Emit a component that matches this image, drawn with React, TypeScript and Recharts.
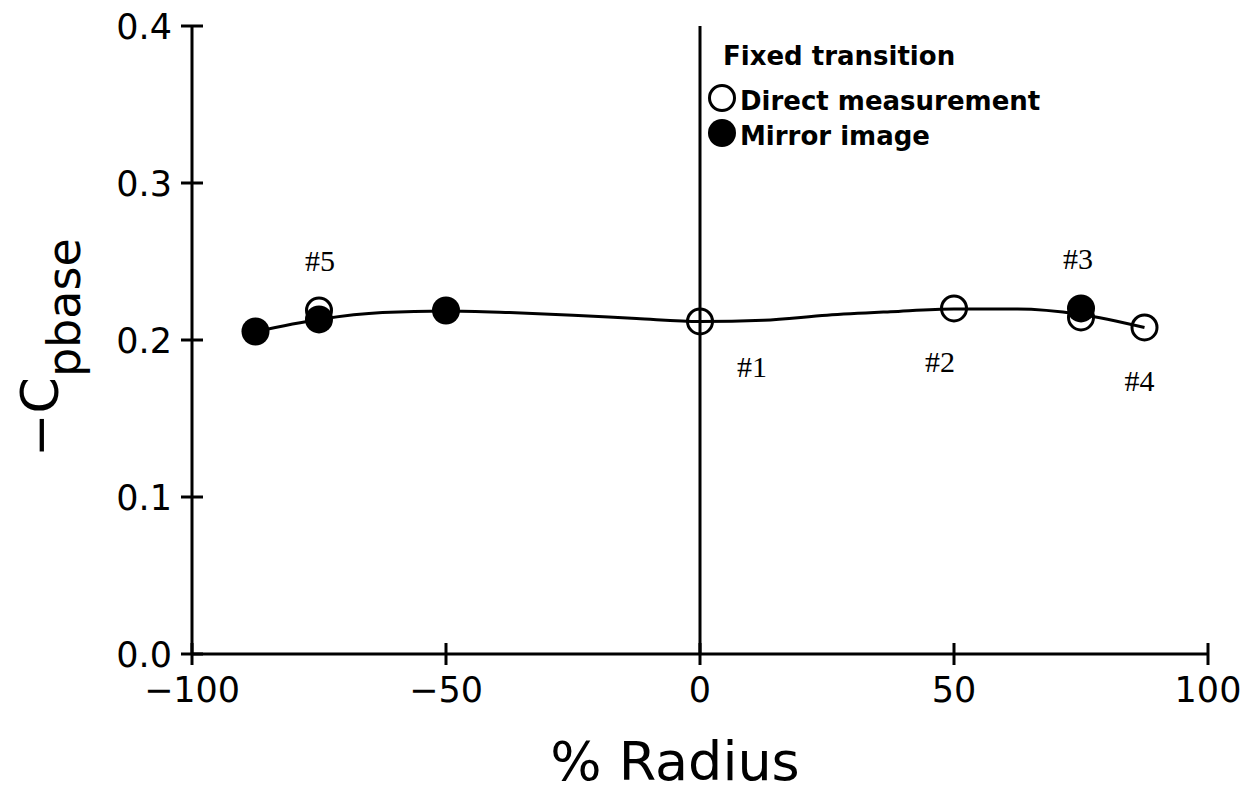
import React from 'react';
import { ComposedChart, Line, Scatter, XAxis, YAxis, ReferenceLine } from 'recharts';

// probe positions (% radius) and -Cp base readings
const directX = [-75, 0, 50, 75, 87.5];
const directY = [0.2188, 0.2118, 0.2201, 0.2144, 0.208];
const probeNames = ['#5', '#1', '#2', '#3', '#4'];

const mirrorX = [-87.5, -75, -50, 75];
const mirrorY = [0.2054, 0.2131, 0.2188, 0.2201];

// faired curve
const curveX = [-87.5, -75, -62.5, -50, -37.5, -25, -12.5, 0, 12.5, 25, 37.5, 50, 62.5, 75, 87.5];
const curveY = [0.2054, 0.2131, 0.2175, 0.2185, 0.2175, 0.2158, 0.2137, 0.2118, 0.2126, 0.2158, 0.218, 0.2198, 0.2198, 0.2163, 0.208];

const xTicks = [-100, -50, 0, 50, 100];
const yTicks = [0, 0.1, 0.2, 0.3, 0.4];

const legendTitle = 'Fixed transition';
const legendNames = ['Direct measurement', 'Mirror image'];

const direct = directX.map((x, i) => ({ x, y: directY[i], probe: probeNames[i] }));
const mirror = mirrorX.map((x, i) => ({ x, y: mirrorY[i] }));
const curve = curveX.map((x, i) => ({ x, y: curveY[i] }));

// where each probe tag sits relative to its open marker
const labelOffset = {
  '#5': [1, -50],
  '#1': [52, 45],
  '#2': [-14, 53],
  '#3': [-3, -59],
  '#4': [-5, 53],
};

const sans = 'DejaVu Sans';

const YTick = (props: any) => {
  const { x, y, payload } = props;
  const ax = x + 20;
  return (
    <g>
      <line x1={ax - 11} x2={ax + 11} y1={y} y2={y} stroke="#000" strokeWidth={3} />
      <text x={x} y={y} dy="0.36em" textAnchor="end" fontFamily={sans} fontSize={35} fill="#000">
        {Number(payload.value).toFixed(1)}
      </text>
    </g>
  );
};

const XTick = (props: any) => {
  const { x, y, payload } = props;
  const v = payload.value;
  const txt = v < 0 ? '\u2212' + Math.abs(v) : String(v);
  return (
    <g>
      <line x1={x} x2={x} y1={y - 11} y2={y + 11} stroke="#000" strokeWidth={3} />
      <text x={x} y={y + 48} textAnchor="middle" fontFamily={sans} fontSize={35} fill="#000">
        {txt}
      </text>
    </g>
  );
};

const OpenDot = (props: any) => (
  <circle cx={props.cx} cy={props.cy} r={12.5} fill="none" stroke="#000" strokeWidth={3} />
);

const FilledDot = (props: any) => <circle cx={props.cx} cy={props.cy} r={14} fill="#000" />;

const ProbeTag = (props: any) => {
  const name = props.payload?.probe;
  const off = labelOffset[name] || [0, 0];
  return (
    <text
      x={props.cx + off[0]}
      y={props.cy + off[1]}
      dy="0.35em"
      textAnchor="middle"
      fontFamily="Liberation Serif"
      fontSize={30}
      fill="#000"
    >
      {name}
    </text>
  );
};

// legend drawn next to the x=0 line, top of the plot
const LegendBox = (props: any) => {
  const vb = props.viewBox;
  const lx = vb.x + 8;
  const ty = vb.y;
  return (
    <g fontFamily={sans} fontWeight="bold" fontSize={26} fill="#000">
      <text x={lx + 15} y={ty + 39}>{legendTitle}</text>
      <circle cx={lx + 14} cy={ty + 72} r={12.5} fill="none" stroke="#000" strokeWidth={3} />
      <text x={lx + 32} y={ty + 84}>{legendNames[0]}</text>
      <circle cx={lx + 14} cy={ty + 107} r={14} fill="#000" />
      <text x={lx + 32} y={ty + 119}>{legendNames[1]}</text>
    </g>
  );
};

const XTitle = (props: any) => {
  const vb = props.viewBox;
  return (
    <text x={vb.x + vb.width / 2 - 25} y={772} textAnchor="middle" fontFamily={sans} fontSize={54} fill="#000">
      % Radius
    </text>
  );
};

const YTitle = () => (
  <text x={50} y={449} transform="rotate(-90, 50, 449)" fontFamily={sans} fill="#000">
    <tspan fontSize={52}>{'\u2212C'}</tspan>
    <tspan fontSize={46} dy={22}>pbase</tspan>
  </text>
);

export default function App() {
  return (
    <div style={{ width: 1246, height: 786, background: '#fff' }}>
      <ComposedChart width={1246} height={786} margin={{ top: 18, right: 46, bottom: 0, left: 0 }}>
        <XAxis
          dataKey="x"
          type="number"
          domain={[-100, 100]}
          ticks={xTicks}
          height={140}
          tickSize={0}
          tickMargin={0}
          tickLine={false}
          axisLine={{ stroke: '#000', strokeWidth: 3 }}
          tick={<XTick />}
          label={{ content: <XTitle /> }}
        />
        <YAxis
          type="number"
          domain={[0, 0.4]}
          ticks={yTicks}
          width={184}
          tickSize={0}
          tickMargin={20}
          tickLine={false}
          axisLine={{ stroke: '#000', strokeWidth: 3 }}
          tick={<YTick />}
          label={{ content: <YTitle /> }}
        />
        <ReferenceLine x={0} stroke="#000" strokeWidth={3} label={{ content: <LegendBox /> }} />
        <Line
          data={curve}
          dataKey="y"
          type="monotone"
          stroke="#000"
          strokeWidth={3}
          dot={false}
          activeDot={false}
          isAnimationActive={false}
          legendType="none"
        />
        <Scatter data={direct} dataKey="y" shape={<OpenDot />} isAnimationActive={false} />
        <Scatter data={mirror} dataKey="y" shape={<FilledDot />} isAnimationActive={false} />
        <Scatter data={direct} dataKey="y" shape={<ProbeTag />} isAnimationActive={false} legendType="none" />
      </ComposedChart>
    </div>
  );
}
